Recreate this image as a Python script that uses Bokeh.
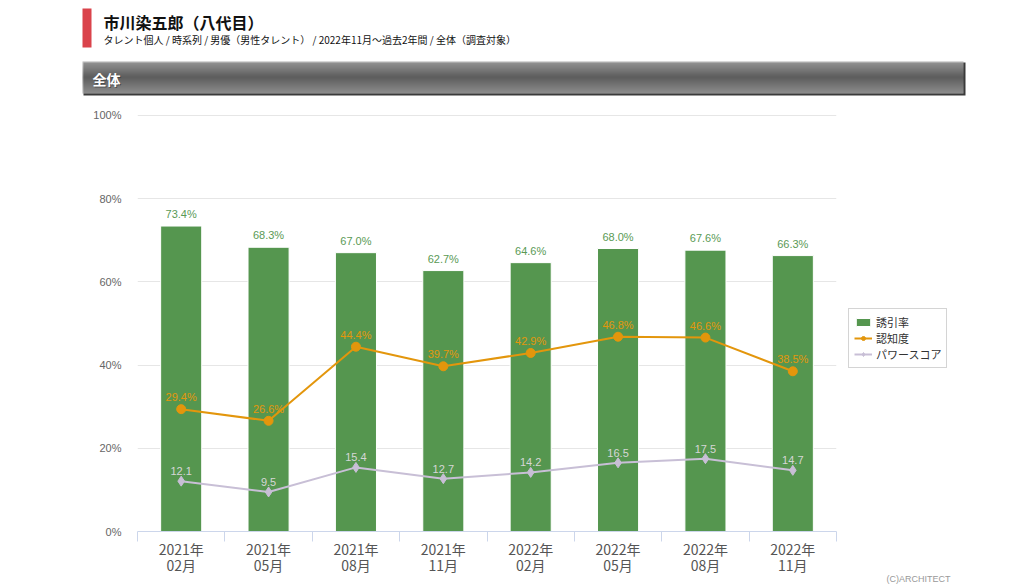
from bokeh.plotting import figure
from bokeh.layouts import column
from bokeh.models import (ColumnDataSource, Range1d, FixedTicker, LabelSet, Label,
                          Legend, LegendItem)
from bokeh.core.properties import value
from bokeh.embed import file_html
from bokeh.resources import INLINE

# ---- data ----
categories = ["2021年\n02月", "2021年\n05月", "2021年\n08月", "2021年\n11月",
              "2022年\n02月", "2022年\n05月", "2022年\n08月", "2022年\n11月"]
attraction = [73.4, 68.3, 67.0, 62.7, 64.6, 68.0, 67.6, 66.3]      # 誘引率
awareness = [29.4, 26.6, 44.4, 39.7, 42.9, 46.8, 46.6, 38.5]       # 認知度
power_score = [12.1, 9.5, 15.4, 12.7, 14.2, 16.5, 17.5, 14.7]      # パワースコア
y_ticks = [0, 20, 40, 60, 80, 100]
y_tick_labels = ["0%", "20%", "40%", "60%", "80%", "100%"]
series_names = ["誘引率", "認知度", "パワースコア"]
title_text = "市川染五郎（八代目）"
subtitle_text = "タレント個人 / 時系列 / 男優（男性タレント） / 2022年11月～過去2年間 / 全体（調査対象）"
section_text = "全体"
credit_text = "(C)ARCHITECT"

JP = "Noto Sans CJK JP"
NUM = "Liberation Sans"
HEAD_H = 107

# ---------------- header figure (pixel space) ----------------
h = figure(width=1024, height=HEAD_H, output_backend="svg", toolbar_location=None,
           x_range=Range1d(0, 1024), y_range=Range1d(HEAD_H, 0),
           x_axis_type=None, y_axis_type=None, min_border=0)
h.frame_align = False
h.outline_line_color = None
h.xgrid.visible = False
h.ygrid.visible = False
h.border_fill_color = "white"

h.quad(left=[82], right=[91], top=[8], bottom=[47], fill_color="#DA434B",
       line_color=None)
h.text(x=[103], y=[21], text=[title_text], text_font=value(JP), text_font_size="16px",
       text_font_style="bold", text_color="#111111", text_baseline="middle")
h.text(x=[103], y=[39], text=[subtitle_text], text_font=value(JP),
       text_font_size="10px", text_color="#111111", text_baseline="middle")

# gradient header bar with shadow
h.quad(left=[83], right=[965], top=[62], bottom=[95], fill_color="#3A3A3A",
       line_color=None)
top_c, mid_c, bot_c = (0xB2, 0xB2, 0xB2), (0x68, 0x68, 0x68), (0xA6, 0xA6, 0xA6)
n = 32
lefts, rights, tops, bottoms, cols = [], [], [], [], []
for i in range(n):
    t = i / (n - 1)
    if t < 0.5:
        u = t / 0.5
        c = [int(top_c[k] + (mid_c[k] - top_c[k]) * u) for k in range(3)]
    else:
        u = (t - 0.5) / 0.5
        c = [int(mid_c[k] + (bot_c[k] - mid_c[k]) * u) for k in range(3)]
    lefts.append(82); rights.append(963)
    tops.append(61 + i); bottoms.append(62 + i)
    cols.append("#%02X%02X%02X" % tuple(c))
h.quad(left=lefts, right=rights, top=tops, bottom=bottoms, fill_color=cols,
       line_color=None)
h.text(x=[93], y=[79], text=[section_text], text_font=value(JP), text_font_size="14px",
       text_font_style="bold", text_color="#333333", text_baseline="middle",
       text_alpha=0.6)
h.text(x=[92], y=[78], text=[section_text], text_font=value(JP), text_font_size="14px",
       text_font_style="bold", text_color="white", text_baseline="middle")

# ---------------- main chart ----------------
xs = list(range(len(categories)))
src = ColumnDataSource(dict(
    x=xs, a=attraction, b=awareness, c=power_score,
    at=[f"{v:.1f}%" for v in attraction],
    bt=[f"{v:.1f}%" for v in awareness],
    ct=[f"{v:.1f}" for v in power_score],
))

p = figure(output_backend="svg", toolbar_location=None,
           x_range=Range1d(-0.5, len(categories) - 0.5), y_range=Range1d(0, 100.2),
           frame_width=699, frame_height=417,
           min_border_left=137, min_border_right=188, min_border_top=7,
           min_border_bottom=57)
p.frame_align = False
p.outline_line_color = None
p.background_fill_color = "white"
p.border_fill_color = "white"

p.xaxis.ticker = FixedTicker(ticks=xs, minor_ticks=[i - 0.5 for i in range(len(categories) + 1)])
p.xaxis.major_label_overrides = {i: c for i, c in enumerate(categories)}
p.xaxis.axis_line_color = "#CCD6EB"
p.xaxis.major_tick_out = 0
p.xaxis.major_tick_in = 0
p.xaxis.minor_tick_out = 10
p.xaxis.minor_tick_in = 0
p.xaxis.minor_tick_line_color = "#CCD6EB"
p.xaxis.major_label_text_font = JP
p.xaxis.major_label_text_font_size = "14px"
p.xaxis.major_label_text_color = "#555555"
p.xaxis.major_label_text_line_height = 0.82
p.xaxis.major_label_standoff = -3

p.yaxis.ticker = FixedTicker(ticks=y_ticks)
p.yaxis.major_label_overrides = {t: l for t, l in zip(y_ticks, y_tick_labels)}
p.yaxis.axis_line_color = None
p.yaxis.major_tick_line_color = None
p.yaxis.minor_tick_line_color = None
p.yaxis.major_tick_out = 0
p.yaxis.minor_tick_out = 0
p.yaxis.major_label_text_font = NUM
p.yaxis.major_label_text_font_size = "11px"
p.yaxis.major_label_text_color = "#666666"
p.yaxis.major_label_standoff = 16

p.xgrid.grid_line_color = None
p.ygrid.grid_line_color = "#E6E6E6"

bars = p.vbar(x="x", top="a", width=0.47, source=src, fill_color="#55964F",
              line_color="#FFFFFF", line_width=1)
l1 = p.line("x", "b", source=src, line_color="#E3960C", line_width=2)
s1 = p.scatter("x", "b", source=src, marker="circle", size=9, fill_color="#E3960C",
               line_color="#E3960C")
l2 = p.line("x", "c", source=src, line_color="#C8BFD6", line_width=2)
s2 = p.scatter("x", "c", source=src, marker="diamond", size=10, fill_color="#C8BFD6",
               line_color="#C8BFD6")

for ycol, tcol, colr in (("a", "at", "#5A9A55"), ("b", "bt", "#E3960C"),
                         ("c", "ct", "#D6D6D6")):
    p.add_layout(LabelSet(x="x", y=ycol, text=tcol, source=src, text_align="center",
                          text_baseline="bottom", y_offset=6, text_font=value(NUM),
                          text_font_size="11px", text_color=colr))

legend = Legend(items=[LegendItem(label=series_names[0], renderers=[bars]),
                       LegendItem(label=series_names[1], renderers=[l1, s1]),
                       LegendItem(label=series_names[2], renderers=[l2, s2])],
                location=(12, 163), orientation="vertical")
legend.label_text_font = JP
legend.label_text_font_size = "11px"
legend.label_text_color = "#333333"
legend.label_text_line_height = 1.0
legend.glyph_width = 18
legend.glyph_height = 10
legend.label_height = 10
legend.spacing = 0
legend.padding = 5
legend.margin = 0
legend.label_standoff = 4
legend.border_line_color = "#AAAAAA"
legend.border_line_width = 1
p.add_layout(legend, "right")

p.add_layout(Label(x=950, y=578 - HEAD_H, x_units="canvas", y_units="canvas",
                   text=credit_text, text_font=NUM, text_font_size="9px",
                   text_color="#999999", text_baseline="middle", text_align="right"),
             "right")

layout = column(h, p, spacing=0)
open("out.html", "w").write(file_html(layout, INLINE))
